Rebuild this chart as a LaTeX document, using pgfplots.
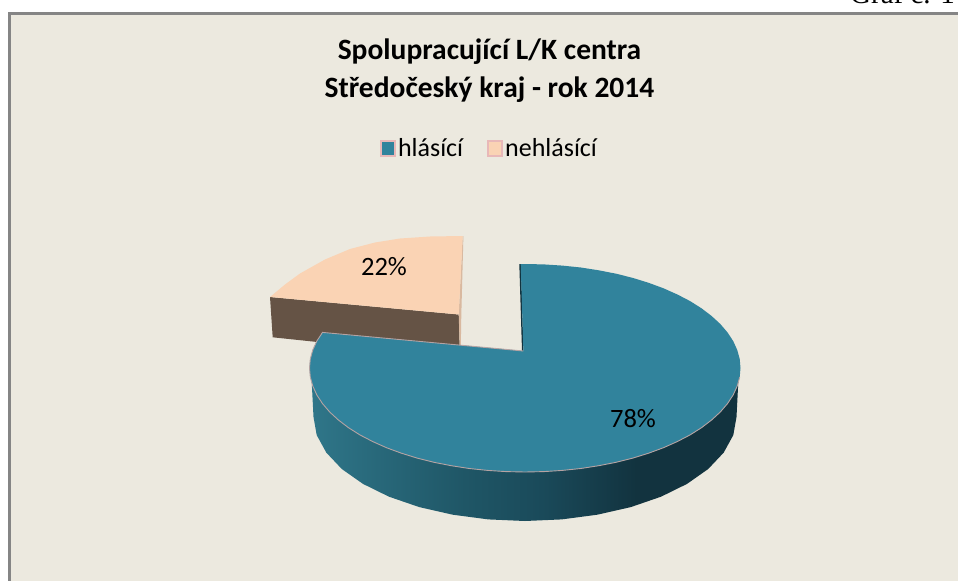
\documentclass[border=0pt]{standalone}
\usepackage{pgfplots}
\pgfplotsset{compat=1.18}
\usepackage{fontspec}
\setmainfont{Carlito}
\newfontfamily\timesf{Liberation Serif}
\definecolor{bgc}{HTML}{ECE9DF}
\definecolor{bord}{HTML}{858585}
\definecolor{teal1}{HTML}{31839C}
\definecolor{peach}{HTML}{FAD3B4}
\definecolor{wallb}{HTML}{655345}
\definecolor{tanw}{HTML}{D9B9A0}
\definecolor{darkt}{HTML}{12333F}
\definecolor{rim}{HTML}{B5A3A3}
\definecolor{legb}{HTML}{E8B8B8}
\definecolor{s0}{HTML}{2F7689}
\definecolor{s1}{HTML}{1F5666}
\definecolor{s2}{HTML}{1A4A5A}
\pgfdeclarehorizontalshading{sidesh}{100bp}{color(0bp)=(s0); color(25bp)=(s0); color(43bp)=(s1); color(52bp)=(s2); color(63bp)=(darkt); color(75bp)=(darkt); color(100bp)=(darkt)}
\begin{document}
\begin{tikzpicture}
\path[use as bounding box, clip] (0,0) rectangle (958bp,581bp);
\begin{axis}[
  at={(0,0)}, anchor=south west,
  scale only axis, width=958bp, height=581bp,
  xmin=0, xmax=958, ymin=0, ymax=581, y dir=reverse,
  axis lines=none, clip=true,
  legend style={at={(0.3967,0.7444)}, anchor=west, draw=none, fill=none, inner sep=0pt, outer sep=0pt,
     font=\fontsize{26bp}{28bp}\selectfont, /tikz/every even column/.append style={column sep=22bp}},
  legend columns=2, legend cell align=left,
]
% frame
\addplot[fill=bord, draw=none, forget plot] coordinates {(8,581) (8,12) (958,12) (958,581)};
\addplot[fill=bgc, draw=none, forget plot] coordinates {(11,581) (11,15) (958,15) (958,581)};
% small slice
\addplot[fill=wallb, draw=none, forget plot] coordinates {(270,297) (458.7,314.5) (460,357) (272.7,337.3)};
\addplot[fill=tanw, draw=none, forget plot] coordinates {(462.7,236) (463.4,236) (461.3,315) (460.8,346) (459.7,346) (458.7,314.5)};
\addplot[fill=peach, draw=none, forget plot] coordinates {(270,297) (285,284.5) (300,273.5) (325,259.5) (350,249) (375,242.5) (400,238.5) (430,236.5) (462.7,236) (458.7,314.5)};
% main slice side
\addplot[shade, shading=sidesh, draw=none, forget plot] coordinates {(311,368) (313.5,417) (316.7,435.1) (326.3,452.6) (341.8,469) (363,483.9) (389,496.7) (419.3,507.1) (452.7,514.7) (488.3,519.4) (525,521) (561.7,519.4) (597.3,514.7) (630.8,507.1) (661,496.7) (687,483.9) (708.2,469) (723.7,452.6) (733.3,435.1) (736.5,417) (739,368)};
% inner wall sliver
\addplot[fill=darkt, draw=none, forget plot] coordinates {(519.3,264) (521,264) (523.4,351) (522,351)};
% main slice top
\addplot[fill=teal1, draw=none, forget plot] coordinates {(523.4,351) (520.7,264) (525,264) (543.8,264.4) (562.4,265.6) (580.8,267.5) (598.7,270.3) (616.1,273.7) (632.8,277.9) (648.6,282.8) (663.5,288.3) (677.4,294.5) (690.1,301.1) (701.5,308.3) (711.6,316) (720.3,324) (727.5,332.4) (733.2,341.1) (737.2,349.9) (739.7,358.9) (740.5,368) (739.7,377.1) (737.2,386.1) (733.2,394.9) (727.5,403.6) (720.3,412) (711.6,420) (701.5,427.7) (690.1,434.9) (677.4,441.5) (663.5,447.7) (648.6,453.2) (632.8,458.1) (616.1,462.3) (598.7,465.7) (580.8,468.5) (562.4,470.4) (543.8,471.6) (525,472) (506.2,471.6) (487.6,470.4) (469.2,468.5) (451.3,465.7) (433.9,462.3) (417.2,458.1) (401.4,453.2) (386.5,447.7) (372.6,441.5) (359.9,434.9) (348.5,427.7) (338.4,420) (329.7,412) (322.5,403.6) (316.8,394.9) (312.8,386.1) (310.3,377.1) (309.5,368) (310.3,358.9) (312.8,349.9) (316.8,341.1) (322.5,332.4)};
% light rim
\addplot[draw=rim, line width=0.9bp, forget plot] coordinates {(739.7,377.1) (737.2,386.1) (733.2,394.9) (727.5,403.6) (720.3,412) (711.6,420) (701.5,427.7) (690.1,434.9) (677.4,441.5) (663.5,447.7) (648.6,453.2) (632.8,458.1) (616.1,462.3) (598.7,465.7) (580.8,468.5) (562.4,470.4) (543.8,471.6) (525,472) (506.2,471.6) (487.6,470.4) (469.2,468.5) (451.3,465.7) (433.9,462.3) (417.2,458.1) (401.4,453.2) (386.5,447.7) (372.6,441.5) (359.9,434.9) (348.5,427.7) (338.4,420) (329.7,412) (322.5,403.6) (316.8,394.9) (312.8,386.1) (310.3,377.1) (309.5,368) (310.3,358.9) (312.8,349.9) (316.8,341.1) (322.5,332.4) (523.4,351)};
% legend
\addlegendimage{legend image code/.code={\path[fill=teal1,draw=legb,line width=2bp] (1bp,-7.5bp) rectangle (15bp,7.5bp);}}
\addlegendentry{hlásící}
\addlegendimage{legend image code/.code={\path[fill=peach,draw=legb,line width=2bp] (1bp,-7.5bp) rectangle (15bp,7.5bp);}}
\addlegendentry{nehlásící}
% text
\node[anchor=base, font=\fontsize{29.5bp}{32bp}\selectfont\bfseries] at (axis cs:489.5,60) {Spolupracující L/K centra};
\node[anchor=base, font=\fontsize{29.5bp}{32bp}\selectfont\bfseries] at (axis cs:489.5,97) {Středočeský kraj - rok 2014};
\node[anchor=base, font=\fontsize{26.5bp}{28bp}\selectfont] at (axis cs:384,275) {22\%};
\node[anchor=base, font=\fontsize{26.5bp}{28bp}\selectfont] at (axis cs:633,427) {78\%};
\node[anchor=base west, inner sep=0pt, font=\fontsize{29bp}{31bp}\selectfont\timesf] at (axis cs:850,3.5) {Graf č. 1};
\end{axis}
\end{tikzpicture}
\end{document}
